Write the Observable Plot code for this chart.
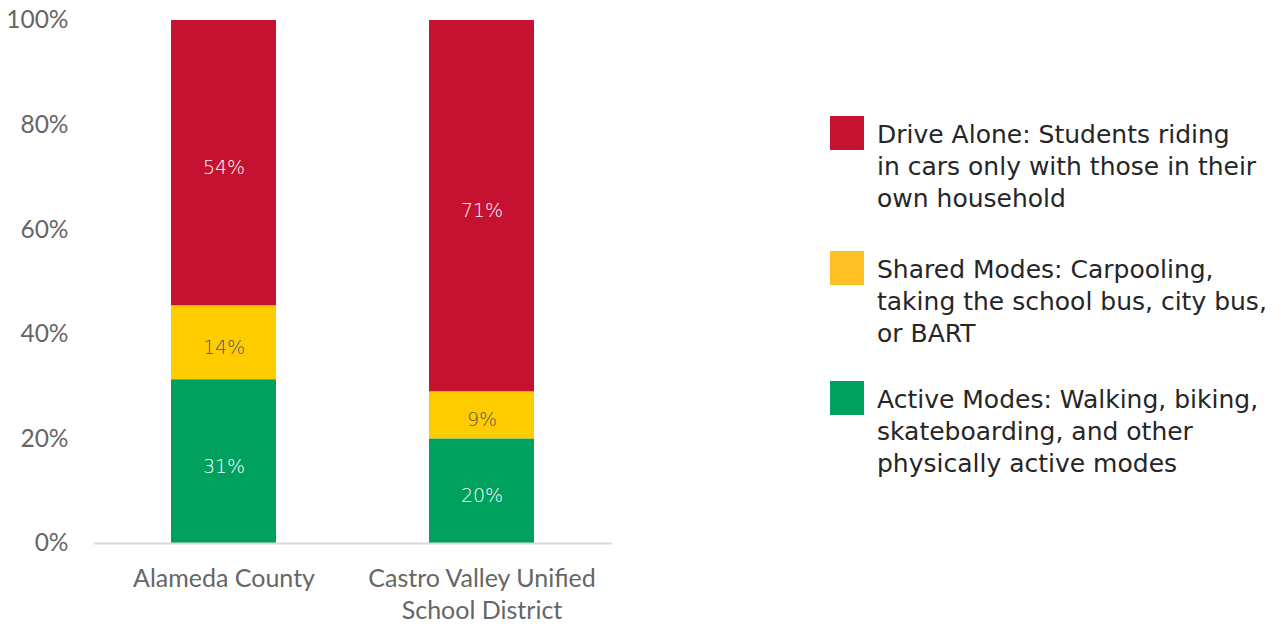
<!DOCTYPE html>
<html>
<head>
<meta charset="utf-8">
<script src="https://cdn.jsdelivr.net/npm/d3@7"></script>
<script src="https://cdn.jsdelivr.net/npm/@observablehq/plot@0.6"></script>
<style>
  html, body { margin: 0; padding: 0; background: #fff; }
  #wrap { position: relative; width: 1284px; height: 624px; overflow: hidden; }
  #chart { position: absolute; left: 0; top: 0; }
  #chart svg { overflow: visible; }
  .legend { position: absolute; left: 830px; font-family: "DejaVu Sans", sans-serif; font-size: 25px; line-height: 32px; color: #262626; }
  .legend .item { position: absolute; left: 0; width: 460px; }
  .legend .sw { position: absolute; left: 0; width: 34px; height: 34px; }
  .legend .txt { position: absolute; left: 47px; white-space: nowrap; }
</style>
</head>
<body>
<div id="wrap">
  <div id="chart"></div>
  <div class="legend" id="legend"></div>
</div>
<script>
// Data
const categories = ["Alameda County", "Castro Valley Unified School District"];
const categoryLabels = ["Alameda County", "Castro Valley Unified\nSchool District"];
const modes = ["Active Modes", "Shared Modes", "Drive Alone"];
const activeValues = [31, 20];
const sharedValues = [14, 9];
const driveValues = [54, 71];
const modeColors = ["#00A05F", "#FFCC00", "#C41230"];
const labelColors = ["#ffffff", "#595959", "#ffffff"];
const legendEntries = [
  ["Drive Alone: Students riding", "in cars only with those in their", "own household"],
  ["Shared Modes: Carpooling,", "taking the school bus, city bus,", "or BART"],
  ["Active Modes: Walking, biking,", "skateboarding, and other", "physically active modes"]
];
const legendColors = ["#C41230", "#FDC125", "#00A05F"];
const yTicks = [0, 0.2, 0.4, 0.6, 0.8, 1];

const seriesValues = [activeValues, sharedValues, driveValues];
const data = [];
categories.forEach((c, i) => {
  modes.forEach((m, j) => {
    data.push({category: c, mode: m, value: seriesValues[j][i]});
  });
});

const stackOpts = {x: "category", y: "value", z: "mode", order: modes, offset: "normalize"};

const chart = Plot.plot({
  width: 640,
  height: 624,
  marginLeft: 94,
  marginRight: 28,
  marginTop: 20,
  marginBottom: 81,
  style: {fontFamily: "Lato, 'DejaVu Sans', sans-serif", background: "#fff", overflow: "visible"},
  x: {domain: categories, paddingInner: 0.593, paddingOuter: 0.30, label: null},
  y: {domain: [0, 1], label: null},
  color: {domain: modes, range: modeColors},
  marks: [
    Plot.barY(data, Plot.stackY({...stackOpts, fill: "mode"})),
    Plot.ruleY([0], {stroke: "#d9d9d9", strokeWidth: 2}),
    Plot.text(data, Plot.stackY({...stackOpts, text: d => d.value + "%",
      fill: d => labelColors[modes.indexOf(d.mode)], dy: 5, fontSize: 19,
      fontFamily: "'DejaVu Sans', sans-serif", fontWeight: 300})),
    Plot.axisY({ticks: yTicks, tickFormat: d => Math.round(d * 100) + "%", tickSize: 0, tickPadding: 26,
      fontSize: 24.5, fill: "#666", label: null}),
    Plot.axisX({tickSize: 0, tickPadding: 21, fontSize: 25, fill: "#666", label: null,
      tickFormat: d => categoryLabels[categories.indexOf(d)], lineHeight: 1.28})
  ]
});
document.getElementById("chart").appendChild(chart);

const legend = document.getElementById("legend");
const tops = [116, 251, 381];
legendEntries.forEach((lines, i) => {
  const item = document.createElement("div");
  item.className = "item";
  item.style.top = tops[i] + "px";
  const sw = document.createElement("div");
  sw.className = "sw";
  sw.style.background = legendColors[i];
  const txt = document.createElement("div");
  txt.className = "txt";
  txt.style.top = "3px";
  txt.innerHTML = lines.join("<br>");
  item.appendChild(sw);
  item.appendChild(txt);
  legend.appendChild(item);
});
</script>
</body>
</html>
